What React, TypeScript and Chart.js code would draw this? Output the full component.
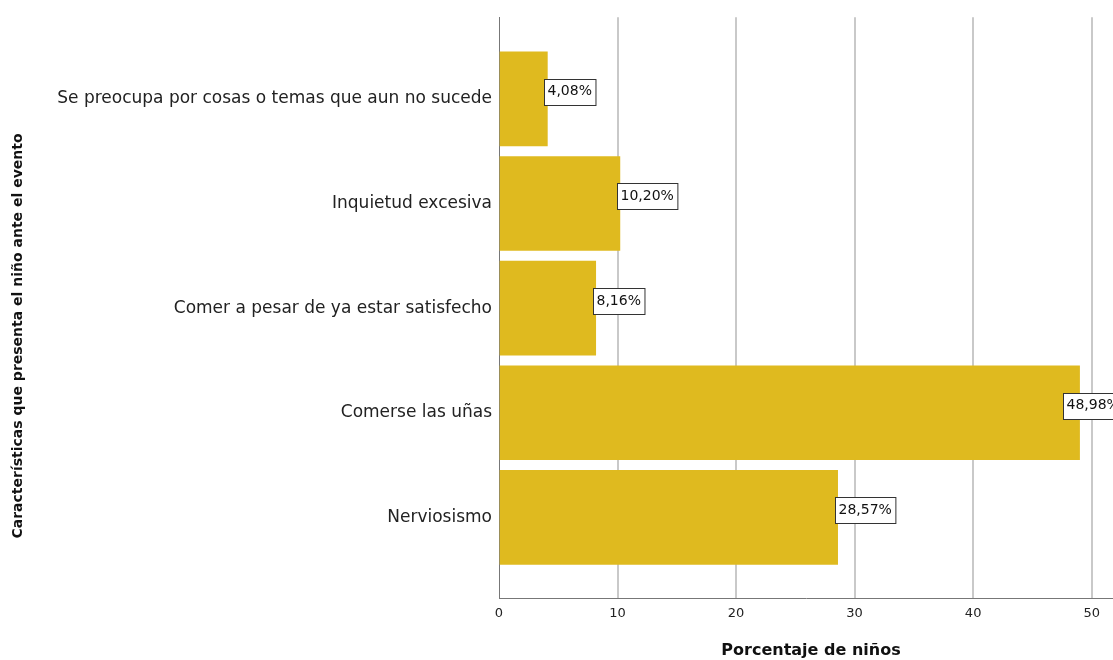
import React, { useEffect, useRef } from "react";
import { Chart, registerables } from "chart.js";

Chart.register(...registerables);

const categories = [
  "Se preocupa por cosas o temas que aun no sucede",
  "Inquietud excesiva",
  "Comer a pesar de ya estar satisfecho",
  "Comerse las uñas",
  "Nerviosismo",
];
const values = [4.08, 10.2, 8.16, 48.98, 28.57];
const valueLabels = ["4,08%", "10,20%", "8,16%", "48,98%", "28,57%"];
const xTicks = [0, 10, 20, 30, 40, 50];
const xTitle = "Porcentaje de niños";
const yTitle = "Características que presenta el niño ante el evento";

const FONT = "'DejaVu Sans', sans-serif";

const labelPlugin = {
  id: "valueBoxes",
  afterDatasetsDraw(chart: any) {
    const ctx = chart.ctx;
    const meta = chart.getDatasetMeta(0);
    const area = chart.chartArea;
    ctx.save();
    ctx.font = `14px ${FONT}`;
    ctx.textBaseline = "middle";
    ctx.textAlign = "left";
    meta.data.forEach((bar: any, i: number) => {
      const text = valueLabels[i];
      const w = ctx.measureText(text).width + 7;
      const h = 26;
      let x = Math.round(bar.x) - 2.5;
      if (x + w > area.right) x = Math.round(area.right - w * 0.82) + 0.5;
      const yc = bar.y - 7;
      const y = Math.round(yc - h / 2) + 0.5;
      ctx.fillStyle = "#ffffff";
      ctx.fillRect(x, y, w, h);
      ctx.strokeStyle = "#333333";
      ctx.lineWidth = 1;
      ctx.strokeRect(x, y, w, h);
      ctx.fillStyle = "#111111";
      ctx.fillText(text, x + 3, yc);
    });
    ctx.restore();
  },
  afterDraw(chart: any) {
    const ctx = chart.ctx;
    ctx.save();
    ctx.fillStyle = "#111111";
    ctx.textAlign = "center";
    ctx.textBaseline = "middle";
    ctx.font = `bold 16px ${FONT}`;
    ctx.fillText(xTitle, 811, 651);
    ctx.translate(18, 336);
    ctx.rotate(-Math.PI / 2);
    ctx.font = `bold 14px ${FONT}`;
    ctx.fillText(yTitle, 0, 0);
    ctx.restore();
  },
};

export default function App() {
  const ref = useRef<HTMLCanvasElement | null>(null);
  useEffect(() => {
    document.body.style.margin = "0";
    const chart = new Chart(ref.current as HTMLCanvasElement, {
      type: "bar",
      data: {
        datasets: [
          {
            data: values.map((v, i) => ({ x: v, y: i })),
            backgroundColor: "#DFBA1F",
            borderWidth: 0,
            barThickness: 94,
            maxBarThickness: 94,
          },
        ],
      },
      options: {
        indexAxis: "y",
        animation: false,
        responsive: false,
        maintainAspectRatio: false,
        layout: { padding: { top: 15, right: 0, left: 0, bottom: 0 } },
        plugins: { legend: { display: false }, tooltip: { enabled: false } },
        scales: {
          x: {
            type: "linear",
            min: 0,
            max: 51.8,
            afterBuildTicks: (s: any) => {
              s.ticks = xTicks.map((v) => ({ value: v }));
            },
            afterFit: (s: any) => {
              s.height = 62;
            },
            grid: {
              color: (c: any) => (c.tick && c.tick.value === 0 ? "rgba(0,0,0,0)" : "#c9c9c9"),
              lineWidth: 2,
              drawTicks: false,
            },
            border: { display: true, color: "#777777", width: 1 },
            ticks: {
              padding: 8,
              color: "#222222",
              font: { family: FONT, size: 13 },
            },
            title: { display: false },
          },
          y: {
            type: "linear",
            offset: false,
            reverse: true,
            min: -0.78,
            max: 4.77,
            afterBuildTicks: (s: any) => {
              s.ticks = categories.map((_, i) => ({ value: i }));
            },
            afterFit: (s: any) => {
              s.width = 499;
            },
            grid: { display: false, drawTicks: false },
            border: { display: true, color: "#777777", width: 1 },
            ticks: {
              padding: 7,
              color: "#222222",
              font: { family: FONT, size: 17 },
              callback: (v: any) => categories[v as number] ?? "",
            },
            title: { display: false },
          },
        },
      },
      plugins: [labelPlugin],
    } as any);
    return () => chart.destroy();
  }, []);
  return (
    <div style={{ width: 1113, height: 660 }}>
      <canvas ref={ref} width={1113} height={660} style={{ display: "block" }} />
    </div>
  );
}
